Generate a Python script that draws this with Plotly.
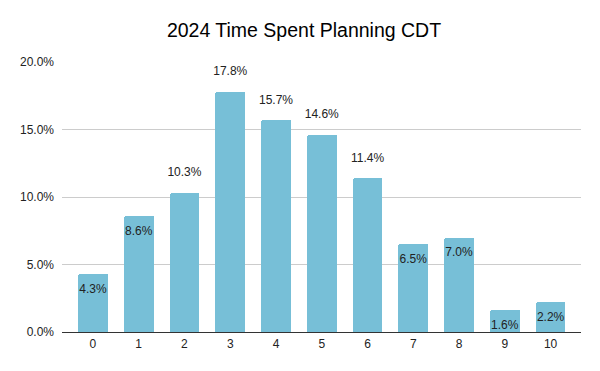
import plotly.graph_objects as go

categories = ["0", "1", "2", "3", "4", "5", "6", "7", "8", "9", "10"]
values = [0.043, 0.086, 0.103, 0.178, 0.157, 0.146, 0.114, 0.065, 0.070, 0.016, 0.022]
label_pos = ["inside", "inside", "outside", "outside", "outside", "outside", "outside",
             "inside", "inside", "inside", "inside"]
ytick_vals = [0, 0.05, 0.10, 0.15, 0.20]
ytick_text = ["0.0%", "5.0%", "10.0%", "15.0%", "20.0%"]

FONT = "Liberation Sans, Arial, sans-serif"
xs = list(range(len(categories)))
labels = [f"{v*100:.1f}%" for v in values]
tpos = ["bottom center" if p == "inside" else "top center" for p in label_pos]
msize = [14 if p == "inside" else 20 for p in label_pos]

# page body has an 8px margin; compensate so the plot lands where the reference has it
W, H = 592, 363

fig = go.Figure()
fig.add_trace(go.Bar(
    x=xs, y=values,
    marker=dict(color="#77BFD7", cornerradius=2, line=dict(width=0)),
    width=0.65,
    hoverinfo="skip",
))
fig.add_trace(go.Scatter(
    x=xs, y=values, text=labels,
    mode="markers+text",
    textposition=tpos,
    marker=dict(size=msize, opacity=0, color="#77BFD7"),
    textfont=dict(family=FONT, size=12, color="#222222"),
    cliponaxis=False,
    hoverinfo="skip",
))

fig.update_layout(
    width=W, height=H,
    margin=dict(l=52, r=19, t=54, b=39),
    paper_bgcolor="white", plot_bgcolor="white",
    title=dict(text="2024 Time Spent Planning CDT", x=0.5, xanchor="center",
               y=1 - 22/H, yanchor="middle",
               font=dict(family=FONT, size=19.5, color="#000000")),
    showlegend=False,
    bargap=0,
    font=dict(family=FONT, size=12, color="#333333"),
)
fig.update_xaxes(
    range=[-0.676, 10.665],
    tickvals=xs, ticktext=categories,
    showgrid=False, zeroline=False, showline=False, ticks="",
    ticklabelstandoff=3,
    tickfont=dict(size=12, color="#222222"),
)
fig.update_yaxes(
    range=[0, 0.2],
    tickvals=ytick_vals, ticktext=ytick_text,
    showgrid=True, gridcolor="#CCCCCC", gridwidth=1,
    zeroline=True, zerolinecolor="#333333", zerolinewidth=1,
    showline=False, ticks="", ticklabelstandoff=7,
    tickfont=dict(size=12, color="#222222"),
)

fig.write_html("out.html")
